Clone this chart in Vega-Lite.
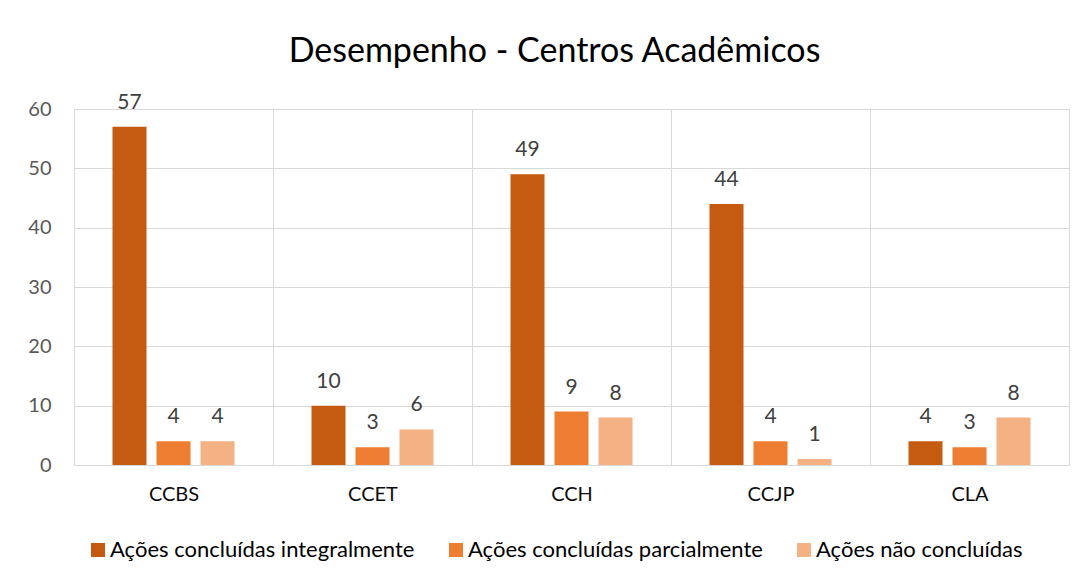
{
  "$schema": "https://vega.github.io/schema/vega-lite/v6.json",
  "width": 995,
  "height": 356,
  "autosize": {"type": "none"},
  "padding": {"left": 74, "top": 109, "right": 20, "bottom": 117},
  "background": "white",
  "title": {"text": "Desempenho - Centros Acadêmicos", "font": "Lato", "fontSize": 34, "fontWeight": "normal", "color": "#000000", "anchor": "middle", "frame": "group", "dx": -17, "offset": 23},
  "data": {"values": [
    {"centro": "CCBS", "tipo": "Ações concluídas integralmente", "valor": 57},
    {"centro": "CCBS", "tipo": "Ações concluídas parcialmente", "valor": 4},
    {"centro": "CCBS", "tipo": "Ações não concluídas", "valor": 4},
    {"centro": "CCET", "tipo": "Ações concluídas integralmente", "valor": 10},
    {"centro": "CCET", "tipo": "Ações concluídas parcialmente", "valor": 3},
    {"centro": "CCET", "tipo": "Ações não concluídas", "valor": 6},
    {"centro": "CCH", "tipo": "Ações concluídas integralmente", "valor": 49},
    {"centro": "CCH", "tipo": "Ações concluídas parcialmente", "valor": 9},
    {"centro": "CCH", "tipo": "Ações não concluídas", "valor": 8},
    {"centro": "CCJP", "tipo": "Ações concluídas integralmente", "valor": 44},
    {"centro": "CCJP", "tipo": "Ações concluídas parcialmente", "valor": 4},
    {"centro": "CCJP", "tipo": "Ações não concluídas", "valor": 1},
    {"centro": "CLA", "tipo": "Ações concluídas integralmente", "valor": 4},
    {"centro": "CLA", "tipo": "Ações concluídas parcialmente", "valor": 3},
    {"centro": "CLA", "tipo": "Ações não concluídas", "valor": 8}
  ]},
  "encoding": {
    "x": {"field": "centro", "type": "nominal", "sort": ["CCBS", "CCET", "CCH", "CCJP", "CLA"],
      "scale": {"paddingInner": 0, "paddingOuter": 0},
      "axis": {"title": null, "grid": true, "tickBand": "extent", "gridColor": "#d9d9d9", "domainColor": "#d9d9d9", "ticks": false, "labelAngle": 0, "labelFont": "Lato", "labelFontSize": 20, "labelColor": "#0d0d0d", "labelPadding": 19}},
    "xOffset": {"field": "tipo", "type": "nominal", "sort": ["Ações concluídas integralmente", "Ações concluídas parcialmente", "Ações não concluídas"],
      "scale": {"paddingInner": 0.227, "paddingOuter": 0.875}},
    "y": {"field": "valor", "type": "quantitative", "scale": {"domain": [0, 60]},
      "axis": {"title": null, "values": [0, 10, 20, 30, 40, 50, 60], "grid": true, "gridColor": "#d9d9d9", "domain": false, "ticks": false, "labelFont": "Lato", "labelFontSize": 20, "labelColor": "#595959", "labelPadding": 23}}
  },
  "layer": [
    {"mark": {"type": "bar"},
     "encoding": {"color": {"field": "tipo", "type": "nominal",
       "sort": ["Ações concluídas integralmente", "Ações concluídas parcialmente", "Ações não concluídas"],
       "scale": {"domain": ["Ações concluídas integralmente", "Ações concluídas parcialmente", "Ações não concluídas"], "range": ["#C55A11", "#ED7D31", "#F4B183"]},
       "legend": {"title": null, "orient": "none", "legendX": 13, "legendY": 430, "direction": "horizontal", "symbolType": "square", "symbolSize": 196, "symbolStrokeWidth": 0, "labelFont": "Lato", "labelFontSize": 22, "labelColor": "#000000", "labelOffset": 1, "columnPadding": 30, "padding": 0, "labelLimit": 500}}}},
    {"mark": {"type": "text", "baseline": "alphabetic", "dy": -18, "font": "Lato", "fontSize": 21, "color": "#404040"},
     "encoding": {"text": {"field": "valor", "type": "quantitative"}}}
  ],
  "config": {"view": {"stroke": "#d9d9d9"}}
}
